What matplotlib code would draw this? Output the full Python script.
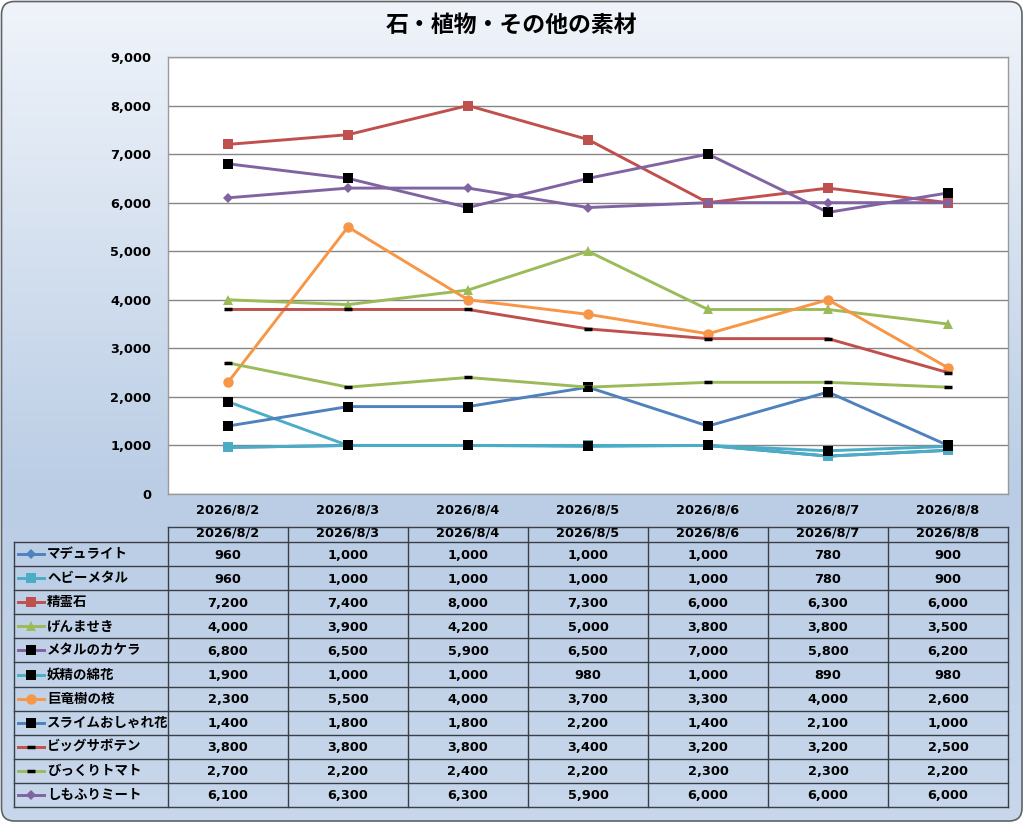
"""
plot.py - 石・植物・その他の素材 price chart with data table underneath
"""
import numpy as np
import matplotlib
matplotlib.use("Agg")
import matplotlib.pyplot as plt
from matplotlib.patches import FancyBboxPatch
from matplotlib.lines import Line2D

# Latin digits from DejaVu, Japanese falls through to Noto CJK
plt.rcParams["font.family"] = ["DejaVu Sans", "Noto Sans CJK JP"]
JP = ["Noto Sans CJK JP", "DejaVu Sans"]

TITLE = "石・植物・その他の素材"
dates = ["2026/8/2", "2026/8/3", "2026/8/4", "2026/8/5",
         "2026/8/6", "2026/8/7", "2026/8/8"]

names = ["マデュライト", "ヘビーメタル", "精霊石", "げんませき", "メタルのカケラ",
         "妖精の綿花", "巨竜樹の枝", "スライムおしゃれ花", "ビッグサボテン",
         "びっくりトマト", "しもふりミート"]

madurite = [960, 1000, 1000, 1000, 1000, 780, 900]
heavy_metal = [960, 1000, 1000, 1000, 1000, 780, 900]
seireiseki = [7200, 7400, 8000, 7300, 6000, 6300, 6000]
genmaseki = [4000, 3900, 4200, 5000, 3800, 3800, 3500]
metal_kakera = [6800, 6500, 5900, 6500, 7000, 5800, 6200]
yousei_menka = [1900, 1000, 1000, 980, 1000, 890, 980]
kyoryuju = [2300, 5500, 4000, 3700, 3300, 4000, 2600]
slime_hana = [1400, 1800, 1800, 2200, 1400, 2100, 1000]
big_saboten = [3800, 3800, 3800, 3400, 3200, 3200, 2500]
bikkuri_tomato = [2700, 2200, 2400, 2200, 2300, 2300, 2200]
shimofuri = [6100, 6300, 6300, 5900, 6000, 6000, 6000]

series = [madurite, heavy_metal, seireiseki, genmaseki, metal_kakera,
          yousei_menka, kyoryuju, slime_hana, big_saboten, bikkuri_tomato,
          shimofuri]

# (line colour, marker, marker colour, marker size)
BLUE, CYAN, RED, GREEN, PURPLE, ORANGE = ("#4F81BD", "#4BACC6", "#C0504D",
                                          "#9BBB59", "#8064A2", "#F79646")
STYLES = [
    (BLUE, "D", BLUE, 5.5),
    (CYAN, "s", CYAN, 7),
    (RED, "s", RED, 7),
    (GREEN, "^", GREEN, 7.5),
    (PURPLE, "s", "black", 7),
    (CYAN, "s", "black", 7),
    (ORANGE, "o", ORANGE, 7.5),
    (BLUE, "s", "black", 7),
    (RED, "_", "black", 6),
    (GREEN, "_", "black", 6),
    (PURPLE, "D", PURPLE, 5.5),
]

NUM_FS = 9.3

W, H = 1024, 823
fig = plt.figure(figsize=(W / 100, H / 100), dpi=100)
fig.patch.set_facecolor("white")

# ───────── background: rounded box with a vertical gradient ─────────
bg = fig.add_axes([0, 0, 1, 1], zorder=0)
bg.set_xlim(0, W)
bg.set_ylim(H, 0)
bg.axis("off")
t = np.linspace(0, 1, 256)
stops_t = [0.0, 0.6, 1.0]
stops_c = np.array([[240, 244, 250], [186, 205, 229], [200, 215, 235]]) / 255
grad = np.stack([np.interp(t, stops_t, stops_c[:, k]) for k in range(3)], axis=1)
grad = np.repeat(grad[:, None, :], 2, axis=1)
img = bg.imshow(grad, extent=(1, W - 1, H - 1, 1), aspect="auto", zorder=0)
box = FancyBboxPatch((1.5, 1.5), W - 3.5, H - 3.5,
                     boxstyle="round,pad=0,rounding_size=13",
                     facecolor="none", edgecolor="#5f6368", linewidth=1.2,
                     zorder=2)
bg.add_patch(box)
img.set_clip_path(box)

fig.text(512 / W, 1 - 25 / H, TITLE, ha="center", va="center",
         fontsize=16.5, fontweight="bold", family=JP)

# ───────── line chart ─────────
PL, PR, PT, PB = 168, 1008, 57, 494
ax = fig.add_axes([PL / W, 1 - PB / H, (PR - PL) / W, (PB - PT) / H], zorder=3)
ax.set_facecolor("white")
x = np.arange(len(dates))
for vals, (col, mk, mcol, ms) in zip(series, STYLES):
    mew = 2.5 if mk == "_" else 0
    ax.plot(x, vals, color=col, linewidth=2.1, marker=mk, markersize=ms,
            markerfacecolor=mcol, markeredgecolor=mcol, markeredgewidth=mew,
            solid_capstyle="round")
ax.set_xlim(-0.5, len(dates) - 0.5)
ax.set_ylim(0, 9000)
ax.set_yticks(np.arange(0, 9001, 1000))
ax.set_yticklabels([f"{v:,}" for v in range(0, 9001, 1000)])
ax.set_xticks(x)
ax.set_xticklabels(dates)
ax.tick_params(length=0, labelsize=NUM_FS, pad=12)
ax.tick_params(axis="x", pad=7)
for lab in ax.get_xticklabels() + ax.get_yticklabels():
    lab.set_fontweight("bold")
ax.grid(axis="y", color="#868686", linewidth=1)
ax.set_axisbelow(True)
for sp in ax.spines.values():
    sp.set_color("#9a9a9a")
    sp.set_linewidth(1)

# ───────── data table ─────────
TL, TR, TT, TB = 14, 1008, 527, 807
tab = fig.add_axes([0, 0, 1, 1], zorder=4)
tab.set_xlim(0, W)
tab.set_ylim(H, 0)
tab.axis("off")
HEAD_H = 542 - TT
row_h = (TB - 542) / len(names)
col0 = 168
col_w = (TR - col0) / len(dates)
ec = "#3a3f47"

# header row (no corner cell)
tab.plot([col0, TR], [TT, TT], color=ec, lw=1)
for j, d in enumerate(dates):
    tab.text(col0 + (j + 0.5) * col_w, TT + HEAD_H / 2 - 1, d,
             ha="center", va="center", fontsize=NUM_FS, fontweight="bold")
# horizontal rules
ys = [542 + i * row_h for i in range(len(names) + 1)]
for y in ys:
    tab.plot([TL, TR], [y, y], color=ec, lw=1)
# vertical rules
tab.plot([TL, TL], [ys[0], ys[-1]], color=ec, lw=1)
for j in range(len(dates) + 1):
    xx = col0 + j * col_w
    tab.plot([xx, xx], [TT, ys[-1]], color=ec, lw=1)

for i, (nm, vals, (col, mk, mcol, ms)) in enumerate(zip(names, series, STYLES)):
    yc = ys[i] + row_h / 2
    mew = 2.5 if mk == "_" else 0
    tab.add_line(Line2D([18, 44], [yc, yc], color=col, linewidth=2.1))
    tab.add_line(Line2D([31], [yc], marker=mk, markersize=ms,
                        markerfacecolor=mcol, markeredgecolor=mcol,
                        markeredgewidth=mew, linestyle="none"))
    tab.text(47, yc, nm, ha="left", va="center", fontsize=9.7,
             fontweight="bold", family=JP)
    for j, v in enumerate(vals):
        tab.text(col0 + (j + 0.5) * col_w, yc + 1, f"{v:,}", ha="center",
                 va="center", fontsize=NUM_FS, fontweight="bold")

fig.savefig("out.png", dpi=100)
